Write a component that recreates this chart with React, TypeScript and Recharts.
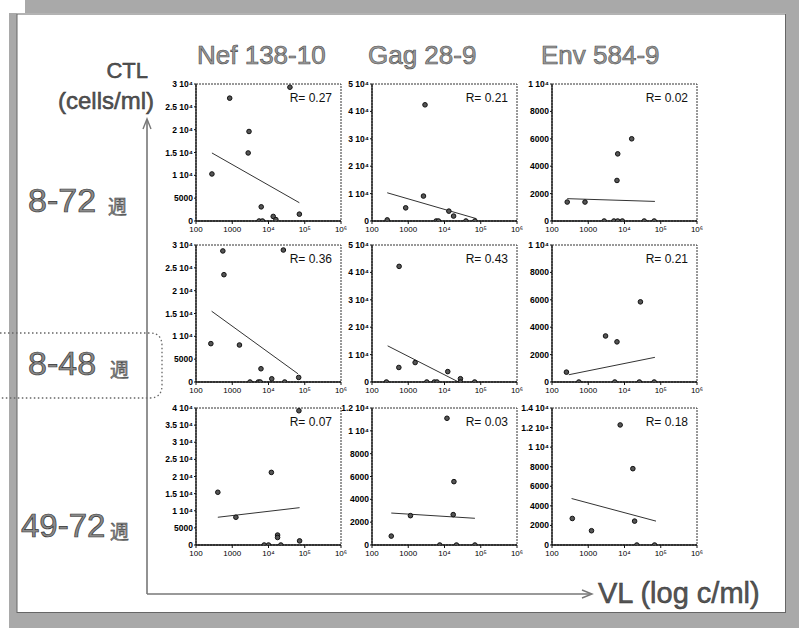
import React from 'react';
import { ScatterChart, Scatter, XAxis, YAxis, ReferenceLine, ReferenceArea } from 'recharts';

// ---------- axis ticks ----------
const xTicks = [100, 1000, 10000, 100000, 1000000];
const xTickLabels = ['100', '1000', '10⁴', '10⁵', '10⁶'];

const nefTicks = [0, 5000, 10000, 15000, 20000, 25000, 30000];
const nefLabels = ['0', '5000', '1 10⁴', '1.5 10⁴', '2 10⁴', '2.5 10⁴', '3 10⁴'];
const gagTicks = [0, 10000, 20000, 30000, 40000, 50000];
const gagLabels = ['0', '1 10⁴', '2 10⁴', '3 10⁴', '4 10⁴', '5 10⁴'];
const envTicks = [0, 2000, 4000, 6000, 8000, 10000];
const envLabels = ['0', '2000', '4000', '6000', '8000', '1 10⁴'];
const nefLateTicks = [0, 5000, 10000, 15000, 20000, 25000, 30000, 35000, 40000];
const nefLateLabels = ['0', '5000', '1 10⁴', '1.5 10⁴', '2 10⁴', '2.5 10⁴', '3 10⁴', '3.5 10⁴', '4 10⁴'];
const gagLateTicks = [0, 2000, 4000, 6000, 8000, 10000, 12000];
const gagLateLabels = ['0', '2000', '4000', '6000', '8000', '1 10⁴', '1.2 10⁴'];
const envLateTicks = [0, 2000, 4000, 6000, 8000, 10000, 12000, 14000];
const envLateLabels = ['0', '2000', '4000', '6000', '8000', '1 10⁴', '1.2 10⁴', '1.4 10⁴'];

// ---------- titles ----------
const epitopes = ['Nef 138-10', 'Gag 28-9', 'Env 584-9'];
const periods = ['8-72', '8-48', '49-72'];

// ---------- data: VL (x) and CTL (y) ----------
const nef872VL = [850, 39000, 2900, 2750, 275, 6300, 5500, 6800, 13500, 16000, 71000];
const nef872CTL = [26900, 29300, 19600, 14900, 10300, 3100, 0, 0, 1000, 300, 1500];
const nef872Fit = [275, 14900, 71000, 4000];
const nef872R = 'R= 0.27';

const gag872VL = [263, 850, 2900, 2630, 5900, 6800, 13200, 17800, 39000, 69000];
const gag872CTL = [400, 4800, 42400, 9100, 0, 0, 3600, 1800, 0, 0];
const gag872Fit = [263, 10300, 76000, 850];
const gag872R = 'R= 0.21';

const env872VL = [263, 813, 2750, 5100, 6500, 8700, 6200, 6500, 15800, 35000, 66000];
const env872CTL = [1383, 1383, 0, 0, 0, 0, 2960, 4900, 6000, 0, 0];
const env872Fit = [263, 1630, 69000, 1430];
const env872R = 'R= 0.02';

const nef848VL = [550, 590, 25700, 257, 1580, 6200, 3090, 5250, 5900, 12300, 28000, 68000];
const nef848CTL = [28700, 23500, 28900, 8400, 8100, 2900, 0, 0, 0, 700, 0, 1000];
const nef848Fit = [270, 15500, 65000, 1800];
const nef848R = 'R= 0.36';

const gag848VL = [250, 560, 550, 1550, 3240, 5250, 6200, 12300, 27500, 27500, 68000];
const gag848CTL = [0, 42200, 5300, 7100, 0, 0, 0, 3800, 1200, 0, 0];
const gag848Fit = [270, 13200, 24500, 0];
const gag848R = 'R= 0.43';

const env848VL = [250, 550, 3000, 6200, 5400, 27500, 25700, 66000];
const env848CTL = [720, 0, 3360, 2930, 0, 5850, 0, 0];
const env848Fit = [290, 530, 69000, 1800];
const env848R = 'R= 0.21';

const nef4972VL = [400, 1260, 12000, 69000, 17800, 17800, 7600, 10000, 21900, 72000];
const nef4972CTL = [15400, 8100, 21200, 39200, 2900, 2200, 0, 0, 0, 1200];
const nef4972Fit = [400, 8100, 72000, 10900];
const nef4972R = 'R= 0.07';

const gag4972VL = [340, 1150, 11700, 18200, 17400, 7400, 21400, 69000];
const gag4972CTL = [780, 2570, 11100, 5550, 2660, 0, 0, 0];
const gag4972Fit = [340, 2800, 69000, 2340];
const gag4972R = 'R= 0.03';

const env4972VL = [363, 1230, 7600, 17000, 19000, 21900, 67600];
const env4972CTL = [2710, 1460, 12270, 7800, 2440, 0, 0];
const env4972Fit = [347, 4750, 74000, 2440];
const env4972R = 'R= 0.18';

// ---------- layout ----------
const colLeft = [196, 372, 552];
const rowTop = [84, 245, 408];
const PW = 145;
const PH = 137;
const FONT = '"Liberation Sans", Arial, Helvetica, sans-serif';

const panels = [
  { row: 0, col: 0, vl: nef872VL, ctl: nef872CTL, fit: nef872Fit, r: nef872R, ticks: nefTicks, labels: nefLabels },
  { row: 0, col: 1, vl: gag872VL, ctl: gag872CTL, fit: gag872Fit, r: gag872R, ticks: gagTicks, labels: gagLabels },
  { row: 0, col: 2, vl: env872VL, ctl: env872CTL, fit: env872Fit, r: env872R, ticks: envTicks, labels: envLabels },
  { row: 1, col: 0, vl: nef848VL, ctl: nef848CTL, fit: nef848Fit, r: nef848R, ticks: nefTicks, labels: nefLabels },
  { row: 1, col: 1, vl: gag848VL, ctl: gag848CTL, fit: gag848Fit, r: gag848R, ticks: gagTicks, labels: gagLabels },
  { row: 1, col: 2, vl: env848VL, ctl: env848CTL, fit: env848Fit, r: env848R, ticks: envTicks, labels: envLabels },
  { row: 2, col: 0, vl: nef4972VL, ctl: nef4972CTL, fit: nef4972Fit, r: nef4972R, ticks: nefLateTicks, labels: nefLateLabels },
  { row: 2, col: 1, vl: gag4972VL, ctl: gag4972CTL, fit: gag4972Fit, r: gag4972R, ticks: gagLateTicks, labels: gagLateLabels },
  { row: 2, col: 2, vl: env4972VL, ctl: env4972CTL, fit: env4972Fit, r: env4972R, ticks: envLateTicks, labels: envLateLabels },
];

const Dot = (p: any) => {
  if (p.cx == null || p.cy == null) return null;
  return <circle cx={p.cx} cy={p.cy} r={2.3} fill="#555" stroke="#111" strokeWidth={1} />;
};

function Panel(props: any) {
  const { row, col, vl, ctl, fit, ticks, labels } = props;
  const data = vl.map((x: number, i: number) => ({ x, y: ctl[i] }));
  const yMax = ticks[ticks.length - 1];
  const ML = 50;
  const MT = 6;
  const MR = 6;
  const XH = 17;
  const W = ML + PW + MR;
  const H = MT + PH + XH;
  return (
    <div style={{ position: 'absolute', left: colLeft[col] - ML, top: rowTop[row] - MT }}>
      <ScatterChart width={W} height={H} margin={{ top: MT, right: MR, bottom: 0, left: 0 }}>
        <ReferenceArea
          x1={100}
          x2={1000000}
          y1={0}
          y2={yMax}
          fill="none"
          fillOpacity={0}
          stroke="#333"
          strokeWidth={1}
          strokeDasharray="2 1"
          ifOverflow="visible"
        />
        <XAxis
          dataKey="x"
          type="number"
          scale="log"
          domain={[100, 1000000]}
          ticks={xTicks}
          interval={0}
          allowDataOverflow
          height={XH}
          tickSize={3}
          tickMargin={2}
          axisLine={{ stroke: '#111', strokeWidth: 1.3 }}
          tickLine={{ stroke: '#111' }}
          tick={{ fontSize: 8, fill: '#000', fontFamily: FONT }}
          tickFormatter={(v: number) => xTickLabels[xTicks.indexOf(v)] ?? ''}
        />
        <YAxis
          dataKey="y"
          type="number"
          domain={[0, yMax]}
          ticks={ticks}
          interval={0}
          allowDataOverflow
          width={ML}
          tickSize={2}
          tickMargin={1}
          axisLine={{ stroke: '#111', strokeWidth: 1.3 }}
          tickLine={{ stroke: '#111' }}
          tick={{ fontSize: 8.5, fill: '#000', fontFamily: FONT, fontWeight: 'bold' }}
          tickFormatter={(v: number) => labels[ticks.indexOf(v)] ?? ''}
        />
        <ReferenceLine
          segment={[{ x: fit[0], y: fit[1] }, { x: fit[2], y: fit[3] }]}
          stroke="#333"
          strokeWidth={1}
        />
        <Scatter data={data} isAnimationActive={false} shape={Dot} />
      </ScatterChart>
    </div>
  );
}

const grey = '#a9a9a9';
const titleStyle: any = { fontFamily: FONT, fill: '#9a9a9a', stroke: '#4a4a4a', strokeWidth: 0.6 };
const labelStyle: any = { fontFamily: FONT, fill: '#8a8a8a', stroke: '#333', strokeWidth: 0.7 };
const darkStyle: any = { fontFamily: FONT, fill: '#555', stroke: '#333', strokeWidth: 0.5 };

export default function App() {
  const titleX = [197, 368, 541];
  const periodY = [212, 375, 537];
  const periodX = [28, 28, 21];
  const kanjiX = [108, 110, 110];
  return (
    <div style={{ position: 'absolute', left: 0, top: 0, width: 799, height: 628, background: '#fff', overflow: 'hidden' }}>
      <svg width={799} height={628} style={{ position: 'absolute', left: 0, top: 0 }}>
        {/* frame */}
        <rect x={25} y={0} width={774} height={13} fill={grey} />
        <rect x={9} y={13} width={8} height={615} fill={grey} />
        <rect x={786} y={0} width={13} height={628} fill={grey} />
        <rect x={9} y={613} width={790} height={15} fill={grey} />
        <line x1={17} y1={14} x2={786} y2={14} stroke="#666" strokeWidth={1} />
        <line x1={17} y1={14} x2={17} y2={613} stroke="#666" strokeWidth={1} />
        <line x1={785.5} y1={14} x2={785.5} y2={613} stroke="#666" strokeWidth={1} />
        <line x1={17} y1={612.5} x2={786} y2={612.5} stroke="#666" strokeWidth={1} />

        {/* column titles */}
        {epitopes.map((t, i) => (
          <text key={t} x={titleX[i]} y={64} fontSize={26} style={titleStyle}>{t}</text>
        ))}

        {/* axis titles */}
        <text x={148} y={78} fontSize={22} textAnchor="end" style={darkStyle}>CTL</text>
        <text x={154} y={109} fontSize={24} textAnchor="end" style={darkStyle}>(cells/ml)</text>
        <text x={598} y={603} fontSize={29} style={darkStyle}>VL (log c/ml)</text>

        {/* period labels */}
        {periods.map((p, i) => (
          <g key={p}>
            <text x={periodX[i]} y={periodY[i]} fontSize={i === 2 ? 33 : 34} style={labelStyle}>{p}</text>
            <text x={kanjiX[i]} y={periodY[i] + 2} fontSize={19} style={{ ...labelStyle, fontFamily: '"Noto Sans CJK JP", sans-serif', strokeWidth: 0.4 }}>週</text>
          </g>
        ))}

        {/* dotted highlight box */}
        <path d="M0,333 H150 Q162,333 162,346 V385 Q162,398 150,398 H0" fill="none" stroke="#666" strokeWidth={1.3} strokeDasharray="1.5 2.5" />

        {/* arrows */}
        <line x1={147} y1={594} x2={147} y2={121} stroke="#777" strokeWidth={1.6} />
        <polyline points="143,129 147,119 151,129" fill="none" stroke="#777" strokeWidth={1.4} />
        <line x1={147} y1={594} x2={590} y2={594} stroke="#777" strokeWidth={1.6} />
        <polyline points="582,590 592,594 582,598" fill="none" stroke="#777" strokeWidth={1.4} />

        {/* R values */}
        {panels.map((p, i) => (
          <text key={i} x={colLeft[p.col] + PW - 9} y={rowTop[p.row] + 18} fontSize={12} textAnchor="end" fontFamily={FONT} fill="#111">{p.r}</text>
        ))}
      </svg>
      {panels.map((p, i) => (
        <Panel key={i} {...p} />
      ))}
    </div>
  );
}
